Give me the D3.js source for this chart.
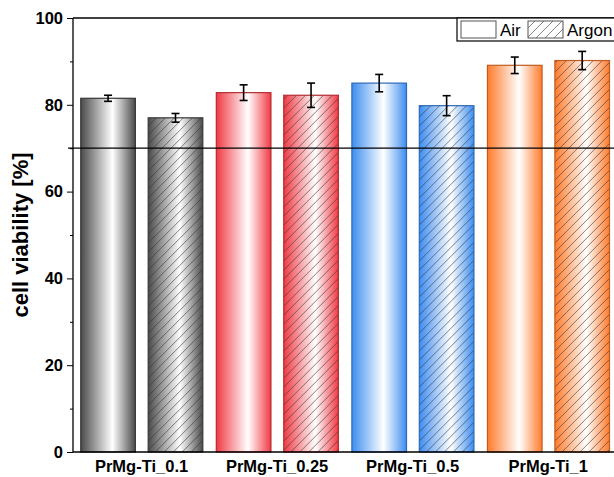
<!DOCTYPE html>
<html>
<head>
<meta charset="UTF-8">
<title>cell viability</title>
<script src="https://cdn.jsdelivr.net/npm/d3@7"></script>
<style>
    body { margin: 0; background: #fff; }
    svg { font-family: "Liberation Sans", Arial, sans-serif; }
    .axis text { font-weight: bold; font-size: 16.5px; fill: #000; }
    .axis path, .axis line { stroke: #000; }
</style>
</head>
<body>
<div id="chart"></div>
<script>
    // samples and atmospheres
    const samples = ['PrMg-Ti_0.1', 'PrMg-Ti_0.25', 'PrMg-Ti_0.5', 'PrMg-Ti_1'];
    const atmospheres = ['Air', 'Argon'];
    const sampleColors = ['#4a4a4a', '#f03a44', '#3d8df0', '#ff7b2c'];

    // mean values and errors
    const airValues = [81.5, 82.8, 85.0, 89.1];
    const airErrors = [0.7, 1.8, 2.0, 1.9];
    const argonValues = [77.0, 82.2, 79.8, 90.2];
    const argonErrors = [1.0, 2.8, 2.3, 2.1];

    const yTicks = [0, 20, 40, 60, 80, 100];
    const yMinorTicks = [10, 30, 50, 70, 90];
    const threshold = 70;

    const width = 614, height = 477;
    const margin = { top: 18, right: -2, bottom: 25, left: 73 };

    const svg = d3.select('#chart').append('svg')
        .attr('width', width)
        .attr('height', height);

    const x0 = d3.scaleBand()
        .domain(samples)
        .range([margin.left + 0.75, width - margin.right]);

    const x1 = d3.scaleBand()
        .domain(atmospheres)
        .range([7, x0.bandwidth() - 6.5])
        .paddingInner(0.19);

    const y = d3.scaleLinear()
        .domain([0, 100])
        .range([height - margin.bottom, margin.top]);

    const defs = svg.append('defs');

    sampleColors.forEach((c, i) => {
        const g = defs.append('linearGradient')
            .attr('id', 'grad' + i)
            .attr('x1', '0%').attr('x2', '100%')
            .attr('y1', '0%').attr('y2', '0%');
        g.append('stop').attr('offset', '0%').attr('stop-color', c);
        g.append('stop').attr('offset', '58%').attr('stop-color', '#ffffff');
        g.append('stop').attr('offset', '100%').attr('stop-color', c);
    });

    const hatch = defs.append('pattern')
        .attr('id', 'hatch')
        .attr('patternUnits', 'userSpaceOnUse')
        .attr('width', 9)
        .attr('height', 9);
    hatch.append('path')
        .attr('d', 'M0,9 L9,0 M-3,3 L3,-3 M6,12 L12,6')
        .attr('stroke', '#333')
        .attr('stroke-width', 0.8)
        .attr('stroke-opacity', 0.75);

    // rows for drawing
    const rows = [];
    samples.forEach((s, i) => {
        rows.push({ sample: s, atm: 'Air', value: airValues[i], err: airErrors[i], ci: i });
        rows.push({ sample: s, atm: 'Argon', value: argonValues[i], err: argonErrors[i], ci: i });
    });

    const bars = svg.append('g')
        .selectAll('g')
        .data(rows)
        .enter()
        .append('g')
        .attr('transform', d => `translate(${x0(d.sample) + x1(d.atm)},0)`);

    bars.append('rect')
        .attr('x', 0)
        .attr('y', d => y(d.value))
        .attr('width', x1.bandwidth())
        .attr('height', d => y(0) - y(d.value))
        .attr('fill', d => `url(#grad${d.ci})`);

    bars.filter(d => d.atm === 'Argon')
        .append('rect')
        .attr('x', 0)
        .attr('y', d => y(d.value))
        .attr('width', x1.bandwidth())
        .attr('height', d => y(0) - y(d.value))
        .attr('fill', 'url(#hatch)');

    bars.append('rect')
        .attr('x', 0)
        .attr('y', d => y(d.value))
        .attr('width', x1.bandwidth())
        .attr('height', d => y(0) - y(d.value))
        .attr('fill', 'none')
        .attr('stroke', d => d3.color(sampleColors[d.ci]).darker(0.8))
        .attr('stroke-width', 1.2);

    // error bars
    const eb = bars.append('g')
        .attr('stroke', '#000')
        .attr('stroke-width', 1.6);
    const cx = x1.bandwidth() / 2;
    eb.append('line')
        .attr('x1', cx).attr('x2', cx)
        .attr('y1', d => y(d.value + d.err))
        .attr('y2', d => y(d.value - d.err));
    eb.append('line')
        .attr('x1', cx - 4).attr('x2', cx + 4)
        .attr('y1', d => y(d.value + d.err))
        .attr('y2', d => y(d.value + d.err));
    eb.append('line')
        .attr('x1', cx - 4).attr('x2', cx + 4)
        .attr('y1', d => y(d.value - d.err))
        .attr('y2', d => y(d.value - d.err));

    // threshold line
    svg.append('line')
        .attr('x1', margin.left - 5)
        .attr('x2', width)
        .attr('y1', y(threshold))
        .attr('y2', y(threshold))
        .attr('stroke', '#000')
        .attr('stroke-width', 1.3);

    // axes
    svg.append('g')
        .attr('class', 'axis')
        .attr('transform', `translate(${margin.left},0)`)
        .call(d3.axisLeft(y).tickValues(yTicks).tickSize(6).tickPadding(4).tickFormat(d3.format('d')))
        .call(g => g.select('.domain').attr('d', `M0,${y(0)}V${y(100)}`).attr('stroke-width', 1.3));

    svg.append('g')
        .attr('class', 'axis')
        .attr('transform', `translate(${margin.left},0)`)
        .call(d3.axisLeft(y).tickValues(yMinorTicks).tickSize(3).tickFormat(''))
        .call(g => g.select('.domain').remove());

    svg.append('g')
        .attr('class', 'axis')
        .attr('transform', `translate(0,${y(0)})`)
        .call(d3.axisBottom(x0).tickSize(0).tickPadding(8))
        .call(g => g.select('.domain').attr('d', `M${margin.left},0H${width}`).attr('stroke-width', 1.3));

    svg.append('line')
        .attr('x1', margin.left).attr('x2', width)
        .attr('y1', y(100)).attr('y2', y(100))
        .attr('stroke', '#000')
        .attr('stroke-width', 1.3);

    // y label
    svg.append('text')
        .attr('transform', `translate(28,${(y(0) + y(100)) / 2}) rotate(-90)`)
        .attr('text-anchor', 'middle')
        .style('font-weight', 'bold')
        .style('font-size', '22px')
        .text('cell viability [%]');

    // legend
    const legend = svg.append('g').attr('transform', `translate(457,${margin.top})`);
    legend.append('rect')
        .attr('x', 0).attr('y', 0)
        .attr('width', 170).attr('height', 23)
        .attr('fill', '#fff')
        .attr('stroke', '#000')
        .attr('stroke-width', 1.2);
    legend.append('rect')
        .attr('x', 4).attr('y', 3)
        .attr('width', 35).attr('height', 17)
        .attr('fill', '#fff')
        .attr('stroke', '#555');
    legend.append('text')
        .attr('x', 43).attr('y', 18)
        .style('font-size', '17px')
        .text(atmospheres[0]);
    legend.append('rect')
        .attr('x', 71).attr('y', 3)
        .attr('width', 35).attr('height', 17)
        .attr('fill', 'url(#hatch)')
        .attr('stroke', '#555');
    legend.append('text')
        .attr('x', 110).attr('y', 18)
        .style('font-size', '17px')
        .text(atmospheres[1]);
</script>
</body>
</html>
